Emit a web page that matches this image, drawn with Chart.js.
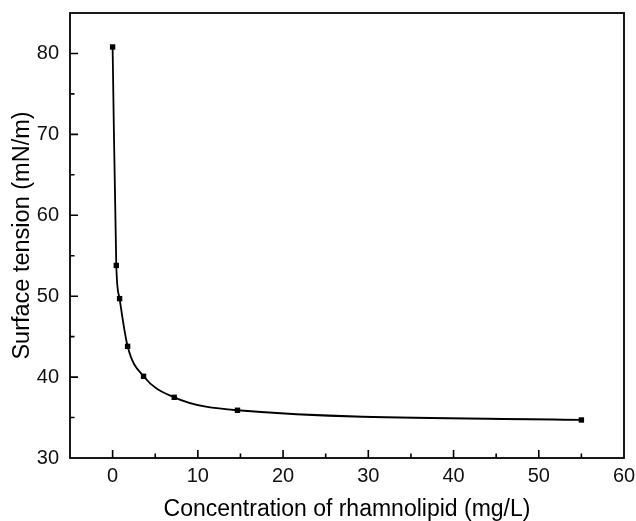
<!DOCTYPE html>
<html>
<head>
<meta charset="utf-8">
<script src="https://cdn.jsdelivr.net/npm/chart.js@4.4.0/dist/chart.umd.min.js"></script>
<style>
html,body{margin:0;padding:0;background:#fff;}
#wrap{width:636px;height:521px;position:relative;}
</style>
</head>
<body>
<div id="wrap"><canvas id="c" width="636" height="521"></canvas></div>
<script>
// Data
const concentration = [0, 0.43, 0.82, 1.76, 3.63, 7.23, 14.65, 55.0];
const surfaceTension = [80.8, 53.8, 49.7, 43.8, 40.1, 37.5, 35.9, 34.7];
const xTickValues = [0, 10, 20, 30, 40, 50, 60];
const yTickValues = [30, 40, 50, 60, 70, 80];
const xMinorValues = [-5, 5, 15, 25, 35, 45, 55];
const yMinorValues = [35, 45, 55, 65, 75, 85];

const points = concentration.map((x, i) => ({x: x, y: surfaceTension[i]}));

const FONT = "'Liberation Sans', Arial, sans-serif";

const framePlugin = {
  id: 'frame',
  afterDatasetsDraw(chart) {
    const {ctx, chartArea: a, scales} = chart;
    ctx.save();
    ctx.strokeStyle = '#000';
    ctx.lineWidth = 1.8;
    ctx.strokeRect(a.left, a.top, a.right - a.left, a.bottom - a.top);
    ctx.lineWidth = 1.6;
    ctx.beginPath();
    const xs = scales.x, ys = scales.y;
    xTickValues.forEach(v => { const p = xs.getPixelForValue(v); if (p > a.left + 1 && p < a.right - 1) { ctx.moveTo(p, a.bottom); ctx.lineTo(p, a.bottom - 8); } });
    xMinorValues.forEach(v => { const p = xs.getPixelForValue(v); if (p > a.left + 1 && p < a.right - 1) { ctx.moveTo(p, a.bottom); ctx.lineTo(p, a.bottom - 4.5); } });
    yTickValues.forEach(v => { const p = ys.getPixelForValue(v); if (p > a.top + 1 && p < a.bottom - 1) { ctx.moveTo(a.left, p); ctx.lineTo(a.left + 8, p); } });
    yMinorValues.forEach(v => { const p = ys.getPixelForValue(v); if (p > a.top + 1 && p < a.bottom - 1) { ctx.moveTo(a.left, p); ctx.lineTo(a.left + 4.5, p); } });
    ctx.stroke();
    ctx.restore();
  }
};

new Chart(document.getElementById('c'), {
  type: 'line',
  data: {
    datasets: [{
      data: points,
      borderColor: '#000',
      backgroundColor: '#000',
      borderWidth: 1.8,
      cubicInterpolationMode: 'monotone',
      pointStyle: 'rect',
      pointRadius: 3.8,
      pointHoverRadius: 3.8,
      pointBackgroundColor: '#000',
      pointBorderWidth: 0,
      fill: false
    }]
  },
  options: {
    responsive: false,
    animation: false,
    devicePixelRatio: 1,
    layout: {padding: {top: 13, right: 12, left: 0, bottom: 0}},
    plugins: {legend: {display: false}, tooltip: {enabled: false}},
    scales: {
      x: {
        type: 'linear',
        min: -5, max: 60,
        afterBuildTicks: s => { s.ticks = xTickValues.map(v => ({value: v})); },
        afterFit: s => { s.height = 63; s.paddingLeft = 0; s.paddingRight = 0; },
        grid: {display: false, drawTicks: false, tickLength: 0},
        border: {display: false},
        ticks: {color: '#111', font: {family: FONT, size: 20}, padding: 6, maxRotation: 0, autoSkip: false},
        title: {display: true, text: 'Concentration of rhamnolipid (mg/L)', color: '#000', font: {family: FONT, size: 23, lineHeight: 1.0}, padding: {top: 0, bottom: 0}}
      },
      y: {
        type: 'linear',
        min: 30, max: 85,
        afterBuildTicks: s => { s.ticks = yTickValues.map(v => ({value: v})); },
        afterFit: s => { s.width = 70; s.paddingTop = 0; s.paddingBottom = 0; },
        grid: {display: false, drawTicks: false, tickLength: 0},
        border: {display: false},
        ticks: {color: '#111', font: {family: FONT, size: 20}, padding: 11, autoSkip: false},
        title: {display: true, text: 'Surface tension (mN/m)', color: '#000', font: {family: FONT, size: 23.5, lineHeight: 1.2}, padding: {top: 8, bottom: 0}}
      }
    }
  },
  plugins: [framePlugin]
});
</script>
</body>
</html>
